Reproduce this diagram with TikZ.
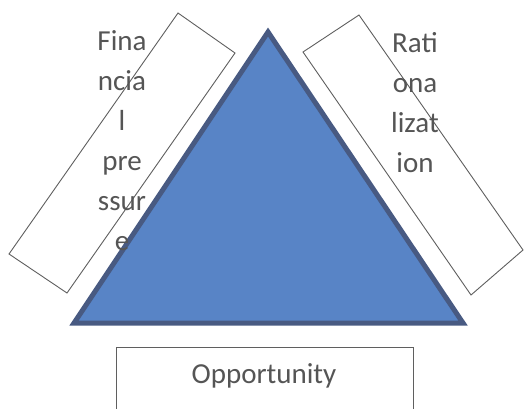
\documentclass[tikz,border=0pt]{standalone}
\usepackage{fontspec}
\setmainfont{Carlito}
\definecolor{trifill}{RGB}{88,132,198}
\definecolor{triline}{RGB}{72,90,130}
\definecolor{txtgray}{RGB}{85,85,85}
\definecolor{boxline}{RGB}{95,95,95}
\begin{document}
\begin{tikzpicture}[x=1pt,y=-1pt,
  sidebox/.style={draw=boxline,line width=0.9pt,fill=white},
  lbl/.style={text=txtgray,font=\fontsize{29}{40}\selectfont,align=center,inner sep=0pt},
  tri/.style={fill=trifill,draw=triline,line width=5pt,line join=miter}]
\useasboundingbox (0,0) rectangle (524,408);
% rotated side boxes
\coordinate (L1) at (178,13);
\coordinate (L2) at (235,53);
\coordinate (L3) at (67,293);
\coordinate (L4) at (9,254);
\draw[sidebox] (L1) -- (L2) -- (L3) -- (L4) -- cycle;
\coordinate (R1) at (359,15);
\coordinate (R2) at (523,250);
\coordinate (R3) at (471,295);
\coordinate (R4) at (303,52);
\draw[sidebox] (R1) -- (R2) -- (R3) -- (R4) -- cycle;
% bottom box
\coordinate (B1) at (116,347);
\coordinate (B2) at (413,420);
\draw[sidebox] (B1) rectangle (B2);
% triangle
\coordinate (T1) at (268,32);
\coordinate (T2) at (74,323);
\coordinate (T3) at (463,323);
\draw[tri] (T1) -- (T2) -- (T3) -- cycle;
% labels
\node[lbl,anchor=north] (fin) at (122,30) {Fina\\ncia\\l\\pre\\ssur\\e};
\node[lbl,anchor=north] (rat) at (415,32) {Rati\\ona\\lizat\\ion};
\node[lbl] (opp) at (264,376) {Opportunity};
\end{tikzpicture}
\end{document}
